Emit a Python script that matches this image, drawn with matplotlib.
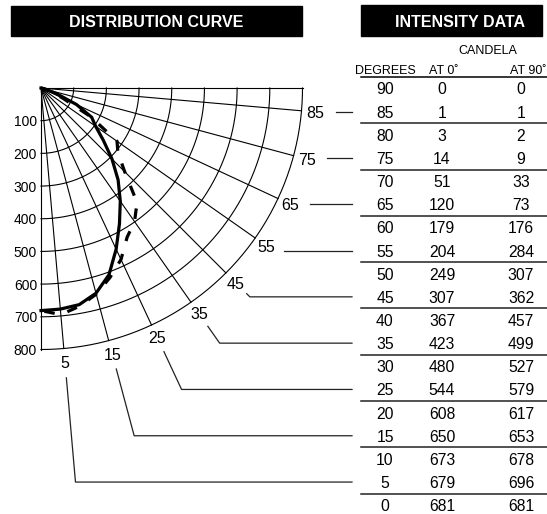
import numpy as np
import matplotlib
matplotlib.use("Agg")
import matplotlib.pyplot as plt
from matplotlib.transforms import Affine2D
from matplotlib.patches import Rectangle
from matplotlib import font_manager

# intensity table (candela)
degrees = [90, 85, 80, 75, 70, 65, 60, 55, 50, 45, 40, 35, 30, 25, 20, 15, 10, 5, 0]
cd_at_0 = [0, 1, 3, 14, 51, 120, 179, 204, 249, 307, 367, 423, 480, 544, 608, 650, 673, 679, 681]
cd_at_90 = [0, 1, 2, 9, 33, 73, 176, 284, 307, 362, 457, 499, 527, 579, 617, 653, 678, 696, 681]
grid_radii = [100, 200, 300, 400, 500, 600, 700, 800]
label_angles = [5, 15, 25, 35, 45, 55, 65, 75, 85]

# fonts
plt.rcParams['font.family'] = ['Liberation Sans', 'DejaVu Sans']
try:
    font_manager.findfont('Liberation Sans Narrow', fallback_to_default=False)
    narrow = ['Liberation Sans Narrow', 'Liberation Sans']
except Exception:
    narrow = ['Liberation Sans', 'DejaVu Sans']

fig = plt.figure(figsize=(5.47, 5.14), dpi=100)
ax = fig.add_axes([0, 0, 1, 1])
ax.set_xlim(0, 547)
ax.set_ylim(514, 0)
ax.axis('off')

# polar chart: origin at top left, 0 deg straight down, 90 deg to the right
OX, OY, S = 41, 88, 261.5 / 800
to_px = Affine2D().scale(S).translate(OX, OY)
polar = to_px + ax.transData


def xy(r, deg):
    th = np.radians(deg)
    return np.asarray(r) * np.sin(th), np.asarray(r) * np.cos(th)


th = np.linspace(0, 90, 300)
for r in grid_radii:
    ax.plot(*xy(r, th), transform=polar, color='k', lw=0.8)
for a in [0] + label_angles + [90]:
    ax.plot(*xy([0, 800], a), transform=polar, color='k', lw=0.8)
for r in grid_radii:
    ax.text(-12, r, str(r), transform=polar, ha='right', va='center_baseline', fontsize=10)

ax.plot(*xy(cd_at_0, np.array(degrees)), transform=polar, color='k', lw=2.3,
        solid_joinstyle='round')
ax.plot(*xy(cd_at_90, np.array(degrees)), transform=polar, color='k', lw=2.3,
        ls=(1, (3.3, 4.2)))

# titles
ax.add_patch(Rectangle((11, 6), 291, 30, color='k'))
ax.text(156.5, 21, 'DISTRIBUTION CURVE', color='w', fontsize=11.5, fontweight='bold',
        ha='center', va='center_baseline')
ax.add_patch(Rectangle((361, 5), 181, 31, color='k'))
ax.text(460, 21, 'INTENSITY DATA', color='w', fontsize=11.5, fontweight='bold',
        ha='center', va='center_baseline')

# table
TY0, DY = 88.5, 23.15
COL = [385, 442, 521]
ax.text(488, 49, 'CANDELA', family=narrow, fontsize=9, ha='center', va='center_baseline')
ax.text(COL[0], 69, 'DEGREES', family=narrow, fontsize=9, ha='center', va='center_baseline')
ax.text(444, 69, 'AT 0\u02da', family=narrow, fontsize=9, ha='center', va='center_baseline')
ax.text(546, 69, 'AT 90\u02da', family=narrow, fontsize=9, ha='right', va='center_baseline')
ax.plot([361, 547], [76.7, 76.7], color='k', lw=1.1)

for i, (d, a, b) in enumerate(zip(degrees, cd_at_0, cd_at_90)):
    y = TY0 + i * DY
    for x, v in zip(COL, (d, a, b)):
        ax.text(x, y, str(v), fontsize=11.3, ha='center', va='center_baseline')
for k in range(9):
    y = TY0 + (2 * k + 1.5) * DY
    ax.plot([361, 547], [y, y], color='#222222', lw=1.1)

# angle labels and leader lines to table rows
R_LABEL, R_LEAD, X_END = 842, 890, 352
for a in label_angles:
    ax.text(*xy(R_LABEL, a), str(a), transform=polar, fontsize=11.5,
            ha='center', va='center_baseline')
    row_y = TY0 + degrees.index(a) * DY
    px, py = to_px.transform(xy(R_LEAD, a))
    if row_y > py:
        ex = px + (row_y - py) * np.tan(np.radians(a))
        ax.plot([px, ex, X_END], [py, row_y, row_y], color='#222222', lw=0.9)
    else:
        ax.plot([px + 5, X_END], [row_y, row_y], color='#222222', lw=0.9)

fig.savefig('out.png', dpi=100)
